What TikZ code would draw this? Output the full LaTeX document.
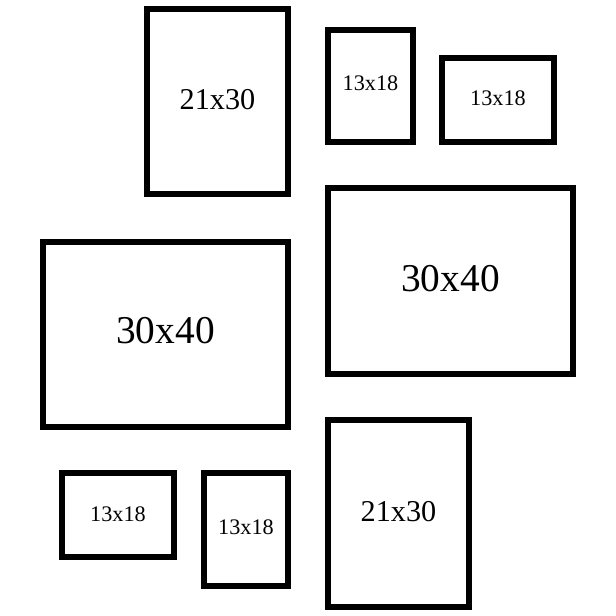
\documentclass[tikz,border=0pt]{standalone}
\usepackage{fontspec}
\setmainfont{Liberation Serif}

\tikzset{
  frame/.style={line width=4.27pt},
  big/.style={font=\fontsize{28}{30}\selectfont, inner sep=0pt},
  mid/.style={font=\fontsize{21.5}{24}\selectfont, inner sep=0pt},
  small/.style={font=\fontsize{15.8}{18}\selectfont, inner sep=0pt}
}

\begin{document}
\begin{tikzpicture}[x=0.025cm, y=-0.025cm]

\useasboundingbox (0,0) rectangle (616,616);

% top row
\draw[frame] (147,9) rectangle (288,194);
\node[mid] (topA) at (217.5,100) {21x30};

\draw[frame] (328,30) rectangle (413,142);
\node[small] (topB) at (370.5,83.5) {13x18};

\draw[frame] (442,58) rectangle (554,142);
\node[small] (topC) at (498,98) {13x18};

% middle row
\draw[frame] (328,188) rectangle (573,374);
\node[big] (midR) at (450.5,278.5) {30x40};

\draw[frame] (43,242) rectangle (288,427);
\node[big] (midL) at (165.5,331) {30x40};

% bottom row
\draw[frame] (62,473) rectangle (174,557);
\node[small] (botA) at (118,514) {13x18};

\draw[frame] (204,473) rectangle (288,586);
\node[small] (botB) at (246,527) {13x18};

\draw[frame] (328,420) rectangle (469,607);
\node[mid] (botC) at (398.5,511.5) {21x30};

\end{tikzpicture}
\end{document}
